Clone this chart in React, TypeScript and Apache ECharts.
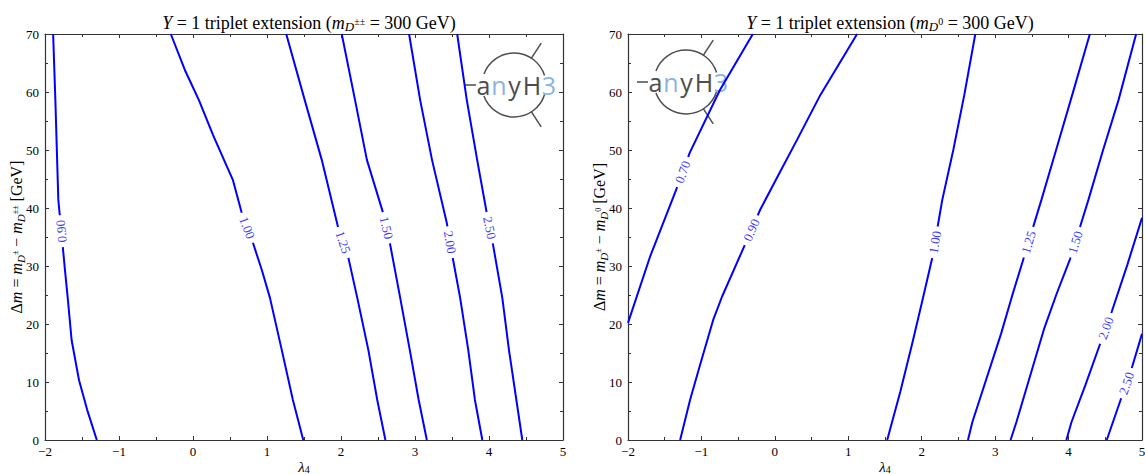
import React, { useEffect, useRef } from "react";
import * as echarts from "echarts";

// ---------- data ----------
const LAMBDA_MIN = -2;
const LAMBDA_MAX = 5;
const DM_MIN = 0;
const DM_MAX = 70;

// Left panel: Y = 1 triplet, m_{D±±} = 300 GeV  (points: [lambda4, Δm])
const leftLevels = ["0.90", "1.00", "1.25", "1.50", "2.00", "2.50"];
const left090 = [[-1.3, 0], [-1.43, 5.2], [-1.54, 10.3], [-1.64, 17.2], [-1.69, 24.1], [-1.73, 29.3], [-1.78, 36], [-1.82, 41.4], [-1.86, 58.6], [-1.89, 70]];
const left100 = [[1.49, 0], [1.35, 6.9], [1.2, 15.5], [1.04, 24.5], [0.93, 29.3], [0.81, 34], [0.66, 39.1], [0.54, 44.8], [0.45, 47.4], [0.27, 52.6], [0.08, 58.6], [-0.11, 63.8], [-0.3, 70]];
const left125 = [[2.6, 0], [2.49, 6.9], [2.37, 15.5], [2.22, 24.5], [2.1, 31.4], [1.96, 36.7], [1.74, 48.3], [1.51, 58.6], [1.26, 70]];
const left150 = [[3.16, 0], [3.05, 6.9], [2.93, 15.5], [2.8, 24.5], [2.66, 34], [2.57, 39.1], [2.35, 48.3], [2.19, 58.6], [2.01, 70]];
const left200 = [[3.91, 0], [3.81, 6.9], [3.72, 15.5], [3.61, 24.5], [3.51, 31.4], [3.43, 37.4], [3.23, 48.3], [3.07, 58.6], [2.92, 70]];
const left250 = [[4.45, 0], [4.37, 6.9], [4.27, 15.5], [4.18, 24.5], [4.05, 34], [3.97, 39.1], [3.84, 48.3], [3.7, 58.6], [3.57, 70]];
const leftContours = [left090, left100, left125, left150, left200, left250];
const leftLabelDm = [36, 36.6, 34.1, 36.6, 34.1, 36.6];

// Right panel: Y = 1 triplet, m_{D0} = 300 GeV
const rightLevels = ["0.70", "0.90", "1.00", "1.25", "1.50", "2.00", "2.50"];
const right070 = [[-2, 20.2], [-1.7, 31.6], [-1.33, 43.6], [-1.16, 49.5], [-0.75, 60.3], [-0.3, 70]];
const right090 = [[-1.29, 0], [-1.155, 6.9], [-1.02, 12.9], [-0.84, 20.7], [-0.72, 24.7], [-0.41, 33.6], [-0.2, 39.7], [0.07, 46.2], [0.3, 51.7], [0.62, 59.5], [1.12, 70]];
const right100 = [[1.53, 0], [1.71, 8.4], [1.87, 16.6], [2.01, 24.1], [2.14, 31.2], [2.28, 41.4], [2.43, 50], [2.58, 59.5], [2.73, 70]];
const right125 = [[2.63, 0], [2.69, 3.1], [3.08, 18.3], [3.23, 24.8], [3.38, 31], [3.63, 41.4], [3.83, 50], [4.05, 59.5], [4.29, 70]];
const right150 = [[3.21, 0], [3.29, 3.1], [3.67, 19.3], [3.84, 25.3], [4.02, 31.2], [4.27, 41.4], [4.47, 50], [4.68, 58.6], [4.92, 70]];
const right200 = [[3.97, 0], [4.04, 3.1], [4.23, 9.5], [4.43, 16.6], [4.59, 22.2], [4.8, 30.2], [5.0, 38.3]];
const right250 = [[4.52, 0], [4.7, 6.6], [4.87, 12.8], [5.0, 18.3]];
const rightContours = [right070, right090, right100, right125, right150, right200, right250];
const rightLabelDm = [46.2, 36.2, 34.1, 34.1, 34.1, 19.3, 9.8];

const xTickStep = 1;
const yTickStep = 10;

// ---------- layout / style ----------
const GRID_TOP = 34;
const GRID_H = 406;
const LEFT_GRID = { left: 45, width: 518 };
const RIGHT_GRID = { left: 628, width: 514 };
const LABEL_HALF_GAP = 16; // px cut out of each contour around its label
const SERIF = '"Liberation Serif", "Times New Roman", serif';
const BLUE = "#0000ff";
const AXIS = "#333333";
const LOGO_GRAY = "#4d4d4d";
const LOGO_BLUE = "#8ab6de";

const titleRich = {
  i: { fontStyle: "italic", fontFamily: SERIF, fontSize: 18 },
  s: { fontStyle: "italic", fontSize: 13, padding: [8, 0, 0, 0], fontFamily: SERIF },
  ss: { fontSize: 10, padding: [0, 0, 3, 0], fontFamily: SERIF },
};
const nameRich = {
  i: { fontStyle: "italic", fontFamily: SERIF, fontSize: 16 },
  s: { fontStyle: "italic", fontSize: 11, padding: [8, 0, 0, 0], fontFamily: SERIF },
  ss: { fontSize: 8, padding: [0, 0, 2, 0], fontFamily: SERIF },
};
const xNameRich = {
  i: { fontStyle: "italic", fontFamily: SERIF, fontSize: 15 },
  n: { fontSize: 10, padding: [5, 0, 0, 0], fontFamily: SERIF },
};

function pxScale(gridW: number) {
  return { sx: gridW / (LAMBDA_MAX - LAMBDA_MIN), sy: GRID_H / (DM_MAX - DM_MIN) };
}

function labelInfo(points: number[][], dm: number, gridW: number) {
  const { sx, sy } = pxScale(gridW);
  for (let k = 0; k < points.length - 1; k++) {
    const a = points[k];
    const b = points[k + 1];
    const lo = Math.min(a[1], b[1]);
    const hi = Math.max(a[1], b[1]);
    if (dm >= lo && dm <= hi) {
      const t = (dm - a[1]) / (b[1] - a[1] || 1);
      const lam = a[0] + t * (b[0] - a[0]);
      let ang = (Math.atan2((b[1] - a[1]) * sy, (b[0] - a[0]) * sx) * 180) / Math.PI;
      if (ang > 90) ang -= 180;
      if (ang < -90) ang += 180;
      if (ang < -83) ang += 180; // almost vertical labels read upwards
      return { lam, ang, seg: k, t };
    }
  }
  return { lam: points[0][0], ang: 0, seg: 0, t: 0 };
}

// split a contour polyline into two pieces, leaving a gap around its label
function splitAtLabel(points: number[][], dm: number, gridW: number) {
  const { sx, sy } = pxScale(gridW);
  const cum = [0];
  for (let k = 1; k < points.length; k++) {
    const dx = (points[k][0] - points[k - 1][0]) * sx;
    const dy = (points[k][1] - points[k - 1][1]) * sy;
    cum.push(cum[k - 1] + Math.hypot(dx, dy));
  }
  const info = labelInfo(points, dm, gridW);
  const sLab = cum[info.seg] + info.t * (cum[info.seg + 1] - cum[info.seg]);
  const at = (s: number) => {
    for (let k = 0; k < points.length - 1; k++) {
      if (s >= cum[k] && s <= cum[k + 1]) {
        const t = (s - cum[k]) / (cum[k + 1] - cum[k] || 1);
        return [points[k][0] + t * (points[k + 1][0] - points[k][0]), points[k][1] + t * (points[k + 1][1] - points[k][1])];
      }
    }
    return s < 0 ? points[0] : points[points.length - 1];
  };
  const s1 = sLab - LABEL_HALF_GAP;
  const s2 = sLab + LABEL_HALF_GAP;
  const a: number[][] = [];
  const b: number[][] = [];
  points.forEach((p, k) => {
    if (cum[k] < s1) a.push(p);
  });
  if (s1 > 0) a.push(at(s1));
  if (s2 < cum[cum.length - 1]) b.push(at(s2));
  points.forEach((p, k) => {
    if (cum[k] > s2) b.push(p);
  });
  return [a, b].filter((piece) => piece.length > 1);
}

function minusFmt(v: number) {
  return String(v).replace("-", "\u2212");
}

function makeAxes(gridIndex: number, xName: any, yName: string) {
  const tick = { show: true, inside: true, length: 4, lineStyle: { color: AXIS, width: 1 } };
  const minor = { show: true, splitNumber: 2, length: 3, lineStyle: { color: AXIS, width: 1 } };
  const line = { show: true, onZero: false, lineStyle: { color: AXIS, width: 1.2 } };
  const xBase = { type: "value", gridIndex, min: LAMBDA_MIN, max: LAMBDA_MAX, interval: xTickStep, splitLine: { show: false }, axisTick: tick, minorTick: minor, axisLine: line };
  const yBase = { type: "value", gridIndex, min: DM_MIN, max: DM_MAX, interval: yTickStep, splitLine: { show: false }, axisTick: tick, minorTick: minor, axisLine: line };
  const x = [
    {
      ...xBase,
      position: "bottom",
      name: xName,
      nameLocation: "middle",
      nameGap: 19,
      nameMoveOverlap: false,
      nameTextStyle: { fontFamily: SERIF, fontSize: 15, color: "#000", rich: xNameRich },
      axisLabel: { show: true, color: "#000", fontFamily: SERIF, fontSize: 13, margin: 5, formatter: minusFmt },
    },
    { ...xBase, position: "top", axisLabel: { show: false } },
  ];
  const y = [
    {
      ...yBase,
      position: "left",
      name: yName,
      nameLocation: "middle",
      nameGap: 19,
      nameMoveOverlap: false,
      nameRotate: 90,
      nameTextStyle: { fontFamily: SERIF, fontSize: 16, color: "#000", rich: nameRich },
      axisLabel: { show: true, color: "#000", fontFamily: SERIF, fontSize: 13, margin: 6, formatter: minusFmt },
    },
    { ...yBase, position: "right", axisLabel: { show: false } },
  ];
  return { x, y };
}

function contourSeries(contours: number[][][], dms: number[], axisIndex: number, gridW: number) {
  const out: any[] = [];
  contours.forEach((pts, k) => {
    splitAtLabel(pts, dms[k], gridW).forEach((piece) => {
      out.push({
        type: "line",
        xAxisIndex: axisIndex,
        yAxisIndex: axisIndex,
        data: piece,
        symbol: "none",
        showSymbol: false,
        silent: true,
        z: 2,
        lineStyle: { color: BLUE, width: 2 },
      });
    });
  });
  return out;
}

function labelSeries(contours: number[][][], levels: string[], dms: number[], axisIndex: number, gridW: number) {
  return {
    type: "scatter",
    xAxisIndex: axisIndex,
    yAxisIndex: axisIndex,
    symbol: "circle",
    symbolSize: 2,
    silent: true,
    z: 5,
    itemStyle: { color: "rgba(0,0,0,0)" },
    labelLayout: { hideOverlap: false },
    data: contours.map((pts, k) => {
      const { lam, ang } = labelInfo(pts, dms[k], gridW);
      return {
        value: [lam, dms[k]],
        label: {
          show: true,
          position: "inside",
          rotate: ang,
          formatter: levels[k],
          color: BLUE,
          fontFamily: SERIF,
          fontSize: 13,
        },
      };
    }),
  };
}

function logo(x: number, y: number) {
  const cx = 49;
  const r = 32;
  const g = Math.PI / 180;
  const stroke = { stroke: LOGO_GRAY, lineWidth: 1.5, fill: "none" };
  const ray = (deg: number) => ({
    type: "line",
    shape: { x1: cx + r * Math.cos(deg * g), y1: r * Math.sin(deg * g), x2: cx + 50 * Math.cos(deg * g), y2: 50 * Math.sin(deg * g) },
    style: { stroke: LOGO_GRAY, lineWidth: 1.5 },
  });
  const letter = (t: string, lx: number, col: string) => ({
    type: "text",
    x: lx,
    y: 0,
    style: { text: t, fill: col, fontSize: 25, fontFamily: '"Open Sans", "DejaVu Sans", sans-serif', align: "center", verticalAlign: "middle" },
  });
  return {
    type: "group",
    x,
    y,
    silent: true,
    z: 10,
    children: [
      { type: "line", shape: { x1: 0, y1: 0, x2: 11, y2: 0 }, style: { stroke: LOGO_GRAY, lineWidth: 1.5 } },
      { type: "arc", shape: { cx, cy: 0, r, startAngle: Math.PI + 0.35, endAngle: 2 * Math.PI - 0.3, clockwise: true }, style: stroke },
      { type: "arc", shape: { cx, cy: 0, r, startAngle: 0.3, endAngle: Math.PI - 0.35, clockwise: true }, style: stroke },
      ray(-57),
      ray(57),
      letter("a", 18.5, LOGO_GRAY),
      letter("n", 34, LOGO_BLUE),
      letter("y", 49.5, LOGO_GRAY),
      letter("H", 67, LOGO_GRAY),
      letter("3", 84, LOGO_BLUE),
    ],
  };
}

export default function App() {
  const ref = useRef<HTMLDivElement>(null);
  useEffect(() => {
    if (!ref.current) return;
    const chart = echarts.init(ref.current, undefined, { renderer: "svg" });
    const leftAxes = makeAxes(0, "{i|λ}{n|4}", "Δ{i|m} = {i|m}{s|D}{ss|±} − {i|m}{s|D}{ss|±±} [GeV]");
    const rightAxes = makeAxes(1, "{i|λ}{n|4}", "Δ{i|m} = {i|m}{s|D}{ss|±} − {i|m}{s|D}{ss|0} [GeV]");
    chart.setOption({
      animation: false,
      backgroundColor: "#ffffff",
      title: [
        {
          text: "{i|Y} = 1 triplet extension ({i|m}{s|D}{ss|±±} = 300 GeV)",
          left: LEFT_GRID.left + LEFT_GRID.width / 2,
          top: 7,
          textAlign: "center",
          textStyle: { fontFamily: SERIF, fontSize: 18, fontWeight: "normal", color: "#000", rich: titleRich },
        },
        {
          text: "{i|Y} = 1 triplet extension ({i|m}{s|D}{ss|0} = 300 GeV)",
          left: RIGHT_GRID.left + RIGHT_GRID.width / 2,
          top: 7,
          textAlign: "center",
          textStyle: { fontFamily: SERIF, fontSize: 18, fontWeight: "normal", color: "#000", rich: titleRich },
        },
      ],
      grid: [
        { left: LEFT_GRID.left, top: GRID_TOP, width: LEFT_GRID.width, height: GRID_H, containLabel: false, outerBoundsMode: "none" },
        { left: RIGHT_GRID.left, top: GRID_TOP, width: RIGHT_GRID.width, height: GRID_H, containLabel: false, outerBoundsMode: "none" },
      ],
      xAxis: [...leftAxes.x, ...rightAxes.x],
      yAxis: [...leftAxes.y, ...rightAxes.y],
      series: [
        ...contourSeries(leftContours, leftLabelDm, 0, LEFT_GRID.width),
        labelSeries(leftContours, leftLevels, leftLabelDm, 0, LEFT_GRID.width),
        ...contourSeries(rightContours, rightLabelDm, 2, RIGHT_GRID.width),
        labelSeries(rightContours, rightLevels, rightLabelDm, 2, RIGHT_GRID.width),
      ],
      graphic: [logo(465, 85), logo(637, 82)],
    });
    return () => chart.dispose();
  }, []);
  return <div ref={ref} style={{ position: "absolute", left: 0, top: 0, width: 1145, height: 474 }} />;
}
